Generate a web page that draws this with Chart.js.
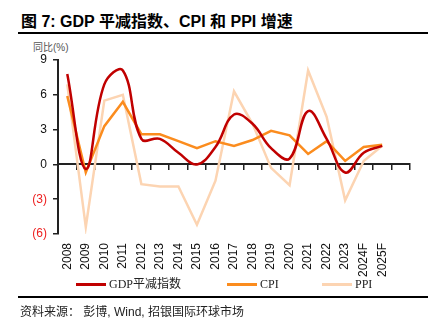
<!DOCTYPE html>
<html>
<head>
<meta charset="utf-8">
<script src="https://cdn.jsdelivr.net/npm/chart.js@4.4.1/dist/chart.umd.min.js"></script>
<style>
  body { margin: 0; width: 434px; height: 328px; background: #fff; position: relative; overflow: hidden;
         font-family: "Liberation Sans", Arial, "Noto Sans CJK SC", sans-serif; }
  #title { position: absolute; left: 21px; top: 8px; font-size: 16px; font-weight: bold; color: #000; white-space: nowrap; }
  .rule { position: absolute; left: 18px; width: 410px; background: #000; }
  #unit { position: absolute; left: 33px; top: 39px; font-size: 10px; color: #555; white-space: nowrap; }
  #wrap { position: absolute; left: 0; top: 40px; width: 434px; height: 240px; }
  .lg { position: absolute; top: 276px; height: 16px; line-height: 16px; font-size: 12px; color: #222; white-space: nowrap;
        font-family: "Liberation Serif", "Times New Roman", "Noto Sans CJK SC", serif; }
  .lg i { display: inline-block; width: 30px; height: 3px; vertical-align: middle; margin: 0 3px 2px 0; }
  #source { position: absolute; left: 20px; top: 302px; font-size: 12px; color: #222; white-space: nowrap; }
</style>
</head>
<body>
<div id="title">图 7: GDP 平减指数、CPI 和 PPI 增速</div>
<div class="rule" style="top:32px;height:2px"></div>
<div id="unit">同比(%)</div>
<div id="wrap"><canvas id="chart" width="434" height="240"></canvas></div>
<div id="legend"></div>
<div class="rule" style="top:296px;height:1.5px"></div>
<div id="source">资料来源： 彭博, Wind, 招银国际环球市场</div>

<script>
// -----------------------------
// Data
// -----------------------------
const categories = ['2008', '2009', '2010', '2011', '2012', '2013', '2014', '2015', '2016',
  '2017', '2018', '2019', '2020', '2021', '2022', '2023', '2024F', '2025F', ''];
const gdpDeflator = [7.8, -0.4, 6.9, 8.1, 2.2, 2.2, 1.0, 0.0, 1.5, 4.3, 3.5, 1.4, 0.5, 4.6, 2.2, -0.7, 1.0, 1.6];
const cpi = [5.9, -0.7, 3.3, 5.4, 2.6, 2.6, 2.0, 1.4, 2.0, 1.6, 2.1, 2.9, 2.5, 0.9, 2.0, 0.3, 1.5, 1.7];
const ppi = [6.9, -5.4, 5.5, 6.0, -1.7, -1.9, -1.9, -5.2, -1.4, 6.3, 3.5, -0.3, -1.8, 8.1, 4.1, -3.1, 0.3, 1.6];
const yTicks = [9, 6, 3, 0, -3, -6];

const seriesNames = ['GDP平减指数', 'CPI', 'PPI'];
const seriesColors = ['#c00000', '#fb8c1e', '#fcd4b2'];
const legendLeft = [76, 227, 322];

// -----------------------------
// Chart
// -----------------------------
const ctx = document.getElementById('chart').getContext('2d');

const chart = new Chart(ctx, {
  type: 'line',
  data: {
    labels: categories,
    datasets: [
      { label: seriesNames[0], data: gdpDeflator, borderColor: seriesColors[0], borderWidth: 2.5, tension: 0.4 },
      { label: seriesNames[1], data: cpi, borderColor: seriesColors[1], borderWidth: 2.5, tension: 0 },
      { label: seriesNames[2], data: ppi, borderColor: seriesColors[2], borderWidth: 2.5, tension: 0 }
    ]
  },
  options: {
    responsive: false,
    animation: false,
    devicePixelRatio: 1,
    layout: { padding: { top: 20, right: 24, bottom: 0, left: 0 } },
    elements: { point: { radius: 0 } },
    plugins: { legend: { display: false }, tooltip: { enabled: false } },
    scales: {
      x: {
        type: 'category',
        position: { y: 0 },
        offset: true,
        grid: { offset: true, drawOnChartArea: false, tickLength: 5, color: '#222', lineWidth: 1.5 },
        border: { color: '#222', width: 2 },
        ticks: { display: false }
      },
      x2: {
        type: 'category',
        labels: categories,
        position: 'bottom',
        offset: true,
        grid: { display: false, drawTicks: false },
        border: { display: false },
        ticks: { autoSkip: false, minRotation: 90, maxRotation: 90, padding: 9, color: '#111',
                 font: { size: 12, family: '"Liberation Sans", Arial, sans-serif' } },
        afterFit: s => { s.height = 46; }
      },
      y: {
        min: -6,
        max: 9,
        afterBuildTicks: axis => { axis.ticks = yTicks.map(v => ({ value: v })); },
        grid: { drawOnChartArea: false, tickLength: 5, color: '#222', lineWidth: 1.5 },
        border: { color: '#222', width: 2 },
        ticks: {
          padding: 6,
          font: { size: 12, family: '"Liberation Sans", Arial, sans-serif' },
          color: c => (c.tick.value < 0 ? '#ee2020' : '#111'),
          callback: v => (v < 0 ? '(' + Math.abs(v) + ')' : String(v))
        },
        afterFit: s => { s.width = 58; }
      }
    }
  }
});

// -----------------------------
// Legend
// -----------------------------
const legend = document.getElementById('legend');
chart.data.datasets.forEach((ds, i) => {
  const item = document.createElement('div');
  item.className = 'lg';
  item.style.left = legendLeft[i] + 'px';
  item.innerHTML = '<i style="background:' + ds.borderColor + '"></i>' + ds.label;
  legend.appendChild(item);
});
</script>
</body>
</html>
